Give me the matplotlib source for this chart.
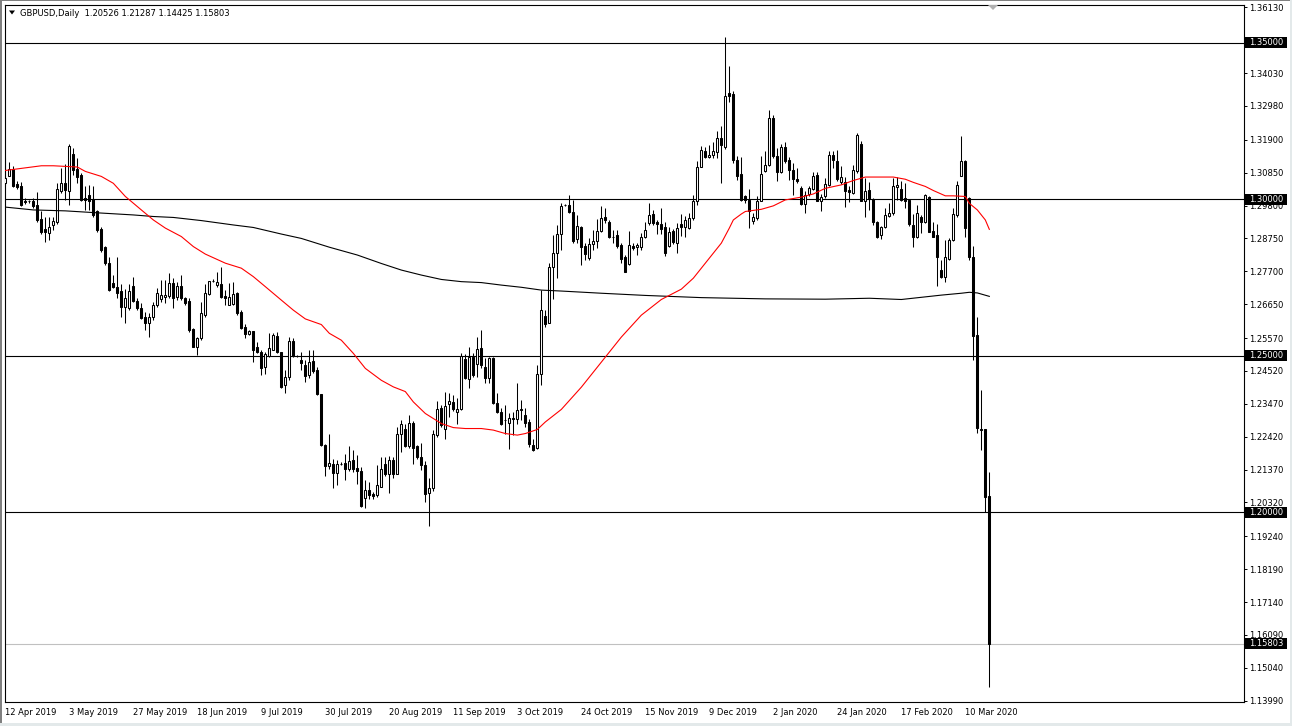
import matplotlib
matplotlib.use("Agg")
import matplotlib.pyplot as plt
from matplotlib.transforms import blended_transform_factory
from matplotlib.patches import Rectangle, Polygon
import numpy as np

plt.rcParams['font.family'] = ['DejaVu Sans']

header_text = "GBPUSD,Daily  1.20526 1.21287 1.14425 1.15803"

opens = [
    1.3051, 1.3075, 1.3096, 1.3049, 1.3041, 1.2994, 1.2993, 1.2995, 1.2982, 1.2936,
    1.2904, 1.2892, 1.2918, 1.2929, 1.3028, 1.3051, 1.3028, 1.3145, 1.3096, 1.3078,
    1.3003, 1.3013, 1.3000, 1.2961, 1.2906, 1.2847, 1.2796, 1.2732, 1.2721, 1.2708,
    1.2657, 1.2652, 1.2723, 1.2676, 1.2652, 1.2625, 1.2606, 1.2625, 1.2662, 1.2680,
    1.2689, 1.2691, 1.2732, 1.2689, 1.2723, 1.2684, 1.2676, 1.2585, 1.2529, 1.2556,
    1.2630, 1.2698, 1.2740, 1.2726, 1.2730, 1.2691, 1.2662, 1.2666, 1.2700, 1.2641,
    1.2593, 1.2569, 1.2579, 1.2529, 1.2513, 1.2465, 1.2499, 1.2520, 1.2563, 1.2511,
    1.2406, 1.2431, 1.2547, 1.2500, 1.2488, 1.2470, 1.2438, 1.2483, 1.2456, 1.2378,
    1.2216, 1.2148, 1.2156, 1.2126, 1.2156, 1.2159, 1.2138, 1.2169, 1.2142, 1.2131,
    1.2047, 1.2073, 1.2058, 1.2057, 1.2081, 1.2156, 1.2124, 1.2169, 1.2124, 1.2252,
    1.2266, 1.2211, 1.2287, 1.2211, 1.2177, 1.2150, 1.2062, 1.2078, 1.2247, 1.2332,
    1.2268, 1.2345, 1.2353, 1.2321, 1.2330, 1.2490, 1.2426, 1.2497, 1.2473, 1.2524,
    1.2465, 1.2428, 1.2492, 1.2348, 1.2321, 1.2295, 1.2286, 1.2303, 1.2297, 1.2329,
    1.2311, 1.2289, 1.2217, 1.2206, 1.2441, 1.2627, 1.2606, 1.2783, 1.2828, 1.2890,
    1.2982, 1.2982, 1.2958, 1.2872, 1.2911, 1.2851, 1.2811, 1.2856, 1.2867, 1.2899,
    1.2943, 1.2927, 1.2881, 1.2885, 1.2854, 1.2815, 1.2794, 1.2851, 1.2849, 1.2847,
    1.2879, 1.2924, 1.2953, 1.2926, 1.2920, 1.2911, 1.2851, 1.2899, 1.2860, 1.2922,
    1.2911, 1.2908, 1.2940, 1.2993, 1.3103, 1.3153, 1.3134, 1.3142, 1.3150, 1.3195,
    1.3167, 1.3339, 1.3335, 1.3126, 1.3081, 1.3009, 1.2998, 1.2932, 1.2940, 1.2995,
    1.3089, 1.3110, 1.3259, 1.3139, 1.3086, 1.3167, 1.3126, 1.3094, 1.3064, 1.3036,
    1.2985, 1.3016, 1.3032, 1.3078, 1.2993, 1.3009, 1.3046, 1.3142, 1.3121, 1.3054,
    1.3054, 1.3030, 1.3020, 1.3089, 1.3177, 1.2996, 1.3030, 1.3000, 1.2926, 1.2886,
    1.2911, 1.2947, 1.2956, 1.3039, 1.3032, 1.3004, 1.2998, 1.2918, 1.2881, 1.2945,
    1.2929, 1.3007, 1.2899, 1.2886, 1.2774, 1.2751, 1.2808, 1.2870, 1.2950, 1.3075,
    1.3121, 1.3004, 1.2817, 1.2566, 1.2268, 1.2266, 1.20526,
]

highs = [
    1.3131, 1.3119, 1.3105, 1.3057, 1.3054, 1.3003, 1.2998, 1.3003, 1.3022, 1.2961,
    1.2943, 1.2943, 1.2943, 1.3051, 1.3099, 1.3112, 1.3177, 1.3163, 1.3131, 1.3083,
    1.3041, 1.3046, 1.3041, 1.2966, 1.2913, 1.2851, 1.2817, 1.2758, 1.2817, 1.2730,
    1.2712, 1.2730, 1.2753, 1.2684, 1.2668, 1.2641, 1.2638, 1.2673, 1.2716, 1.2742,
    1.2742, 1.2764, 1.2748, 1.2737, 1.2758, 1.2689, 1.2684, 1.2588, 1.2561, 1.2673,
    1.2730, 1.2740, 1.2745, 1.2769, 1.2785, 1.2710, 1.2732, 1.2737, 1.2705, 1.2646,
    1.2602, 1.2584, 1.2581, 1.2545, 1.2520, 1.2513, 1.2572, 1.2572, 1.2577, 1.2513,
    1.2456, 1.2559, 1.2556, 1.2503, 1.2513, 1.2488, 1.2520, 1.2520, 1.2465, 1.2378,
    1.2220, 1.2250, 1.2172, 1.2169, 1.2160, 1.2188, 1.2211, 1.2198, 1.2182, 1.2145,
    1.2105, 1.2097, 1.2065, 1.2150, 1.2177, 1.2177, 1.2179, 1.2177, 1.2273, 1.2294,
    1.2284, 1.2310, 1.2291, 1.2214, 1.2222, 1.2165, 1.2110, 1.2262, 1.2356, 1.2343,
    1.2385, 1.2380, 1.2375, 1.2367, 1.2508, 1.2506, 1.2527, 1.2508, 1.2559, 1.2582,
    1.2492, 1.2497, 1.2495, 1.2380, 1.2332, 1.2343, 1.2316, 1.2321, 1.2412, 1.2359,
    1.2332, 1.2300, 1.2236, 1.2470, 1.2710, 1.2648, 1.2796, 1.2886, 1.2918, 1.2988,
    1.2986, 1.3014, 1.2998, 1.2950, 1.2915, 1.2860, 1.2876, 1.2902, 1.2936, 1.2977,
    1.2972, 1.2934, 1.2902, 1.2902, 1.2860, 1.2822, 1.2899, 1.2860, 1.2860, 1.2892,
    1.2929, 1.2988, 1.2966, 1.2934, 1.2972, 1.2929, 1.2913, 1.2904, 1.2924, 1.2953,
    1.2947, 1.2956, 1.3014, 1.3121, 1.3169, 1.3167, 1.3174, 1.3182, 1.3217, 1.3233,
    1.3518, 1.3425, 1.3345, 1.3137, 1.3135, 1.3014, 1.3032, 1.2956, 1.3009, 1.3137,
    1.3153, 1.3286, 1.3270, 1.3163, 1.3177, 1.3182, 1.3135, 1.3115, 1.3099, 1.3043,
    1.3025, 1.3043, 1.3086, 1.3086, 1.3017, 1.3067, 1.3153, 1.3153, 1.3158, 1.3105,
    1.3071, 1.3041, 1.3110, 1.3212, 1.3185, 1.3067, 1.3054, 1.3004, 1.2932, 1.2915,
    1.2972, 1.2988, 1.3067, 1.3071, 1.3057, 1.3051, 1.3000, 1.2953, 1.2982, 1.2950,
    1.3017, 1.3009, 1.2926, 1.2921, 1.2806, 1.2870, 1.2876, 1.2972, 1.3057, 1.3203,
    1.3124, 1.3007, 1.2851, 1.2625, 1.2390, 1.2268, 1.21287,
]

lows = [
    1.3046, 1.3073, 1.3039, 1.3032, 1.2977, 1.2985, 1.2988, 1.2971, 1.2929, 1.2889,
    1.2865, 1.2870, 1.2902, 1.2921, 1.3019, 1.2998, 1.2982, 1.3078, 1.3051, 1.2993,
    1.2966, 1.2966, 1.2943, 1.2897, 1.2833, 1.2790, 1.2708, 1.2716, 1.2684, 1.2623,
    1.2604, 1.2646, 1.2673, 1.2646, 1.2617, 1.2582, 1.2561, 1.2614, 1.2657, 1.2673,
    1.2668, 1.2684, 1.2652, 1.2678, 1.2678, 1.2662, 1.2577, 1.2527, 1.2502, 1.2550,
    1.2625, 1.2694, 1.2735, 1.2721, 1.2684, 1.2662, 1.2662, 1.2662, 1.2630, 1.2585,
    1.2556, 1.2566, 1.2481, 1.2508, 1.2438, 1.2441, 1.2497, 1.2518, 1.2510, 1.2396,
    1.2382, 1.2424, 1.2495, 1.2497, 1.2454, 1.2417, 1.2428, 1.2444, 1.2374, 1.2211,
    1.2115, 1.2140, 1.2078, 1.2089, 1.2150, 1.2103, 1.2132, 1.2129, 1.2092, 1.2019,
    1.2015, 1.2044, 1.2044, 1.2049, 1.2081, 1.2115, 1.2062, 1.2111, 1.2122, 1.2193,
    1.2209, 1.2207, 1.2154, 1.2172, 1.2135, 1.2035, 1.1958, 1.2070, 1.2241, 1.2273,
    1.2236, 1.2305, 1.2324, 1.2284, 1.2327, 1.2425, 1.2396, 1.2433, 1.2433, 1.2460,
    1.2412, 1.2412, 1.2346, 1.2316, 1.2279, 1.2252, 1.2204, 1.2247, 1.2284, 1.2295,
    1.2273, 1.2209, 1.2196, 1.2204, 1.2406, 1.2593, 1.2604, 1.2680, 1.2748, 1.2838,
    1.2978, 1.2956, 1.2860, 1.2860, 1.2790, 1.2806, 1.2806, 1.2838, 1.2844, 1.2897,
    1.2924, 1.2876, 1.2860, 1.2844, 1.2796, 1.2769, 1.2790, 1.2838, 1.2822, 1.2838,
    1.2876, 1.2918, 1.2918, 1.2890, 1.2890, 1.2819, 1.2849, 1.2858, 1.2830, 1.2883,
    1.2881, 1.2904, 1.2934, 1.2982, 1.3103, 1.3132, 1.3132, 1.3132, 1.3132, 1.3052,
    1.3160, 1.3310, 1.3115, 1.3062, 1.2993, 1.2988, 1.2908, 1.2921, 1.2934, 1.2993,
    1.3086, 1.3107, 1.3131, 1.3057, 1.3083, 1.3115, 1.3062, 1.3014, 1.3051, 1.2982,
    1.2956, 1.3009, 1.3030, 1.2993, 1.2961, 1.3004, 1.3041, 1.3099, 1.3057, 1.3049,
    1.2975, 1.2990, 1.3016, 1.3083, 1.2993, 1.2945, 1.2966, 1.2918, 1.2877, 1.2872,
    1.2908, 1.2945, 1.2950, 1.2998, 1.2993, 1.2972, 1.2915, 1.2849, 1.2876, 1.2892,
    1.2924, 1.2894, 1.2879, 1.2723, 1.2748, 1.2737, 1.2806, 1.2868, 1.2945, 1.3073,
    1.2879, 1.2806, 1.2486, 1.2254, 1.2200, 1.2001, 1.14425,
]

closes = [
    1.3067, 1.3096, 1.3043, 1.3039, 1.2982, 1.2992, 1.2993, 1.2977, 1.2934, 1.2897,
    1.2897, 1.2911, 1.2931, 1.3032, 1.3051, 1.3030, 1.3171, 1.3092, 1.3071, 1.2998,
    1.2998, 1.2993, 1.2950, 1.2902, 1.2838, 1.2796, 1.2710, 1.2719, 1.2700, 1.2657,
    1.2684, 1.2708, 1.2676, 1.2652, 1.2620, 1.2606, 1.2625, 1.2662, 1.2700, 1.2694,
    1.2694, 1.2732, 1.2684, 1.2723, 1.2684, 1.2670, 1.2582, 1.2529, 1.2556, 1.2638,
    1.2702, 1.2740, 1.2740, 1.2737, 1.2687, 1.2684, 1.2689, 1.2698, 1.2636, 1.2588,
    1.2570, 1.2579, 1.2520, 1.2513, 1.2460, 1.2505, 1.2524, 1.2568, 1.2513, 1.2401,
    1.2431, 1.2547, 1.2499, 1.2499, 1.2476, 1.2435, 1.2481, 1.2452, 1.2378, 1.2214,
    1.2148, 1.2159, 1.2126, 1.2156, 1.2155, 1.2140, 1.2164, 1.2138, 1.2132, 1.2020,
    1.2073, 1.2055, 1.2054, 1.2089, 1.2140, 1.2122, 1.2169, 1.2122, 1.2252, 1.2284,
    1.2212, 1.2287, 1.2206, 1.2177, 1.2150, 1.2060, 1.2078, 1.2252, 1.2329, 1.2279,
    1.2340, 1.2355, 1.2329, 1.2329, 1.2500, 1.2428, 1.2497, 1.2439, 1.2521, 1.2470,
    1.2430, 1.2492, 1.2348, 1.2321, 1.2284, 1.2294, 1.2303, 1.2297, 1.2327, 1.2328,
    1.2286, 1.2220, 1.2201, 1.2441, 1.2646, 1.2602, 1.2783, 1.2828, 1.2889, 1.2979,
    1.2982, 1.2958, 1.2868, 1.2915, 1.2849, 1.2826, 1.2856, 1.2867, 1.2899, 1.2940,
    1.2934, 1.2881, 1.2880, 1.2851, 1.2809, 1.2769, 1.2854, 1.2844, 1.2854, 1.2879,
    1.2902, 1.2950, 1.2924, 1.2920, 1.2904, 1.2830, 1.2897, 1.2862, 1.2908, 1.2911,
    1.2934, 1.2940, 1.2993, 1.3103, 1.3156, 1.3134, 1.3142, 1.3155, 1.3195, 1.3174,
    1.3329, 1.3329, 1.3126, 1.3075, 1.2998, 1.2998, 1.2961, 1.2945, 1.2995, 1.3081,
    1.3110, 1.3259, 1.3137, 1.3086, 1.3167, 1.3121, 1.3092, 1.3064, 1.3057, 1.2985,
    1.3014, 1.3036, 1.3075, 1.2996, 1.3007, 1.3049, 1.3142, 1.3124, 1.3064, 1.3071,
    1.3025, 1.3022, 1.3092, 1.3206, 1.2996, 1.3028, 1.3000, 1.2926, 1.2879, 1.2911,
    1.2950, 1.2956, 1.3043, 1.3046, 1.2998, 1.2996, 1.2921, 1.2881, 1.2956, 1.2929,
    1.3014, 1.2897, 1.2881, 1.2815, 1.2751, 1.2815, 1.2870, 1.2952, 1.3046, 1.3121,
    1.2907, 1.2815, 1.2563, 1.2271, 1.2264, 1.2049, 1.15803,
]

# moving averages (bar index, value)
ma_red_bars = [0, 9, 12, 18, 20, 24, 27, 30, 34, 37, 40, 44, 47, 50, 55, 59, 62, 65, 69, 72,
               75, 79, 81, 84, 87, 90, 94, 97, 100, 102, 105, 109, 112, 115, 119, 122, 125,
               128, 130, 133, 135, 139, 144, 149, 154, 159, 164, 169, 172, 175, 179, 181,
               182, 184, 185, 189, 192, 195, 199, 202, 205, 209, 212, 215, 222, 225, 227,
               230, 232, 235, 237, 240, 241, 243, 245, 246]
ma_red_vals = [1.3092, 1.3107, 1.3107, 1.3103, 1.3089, 1.3073, 1.3051, 1.3009, 1.2966, 1.2934,
               1.2908, 1.2881, 1.2849, 1.2825, 1.2796, 1.2780, 1.2753, 1.2721, 1.2678, 1.2646,
               1.2618, 1.2600, 1.2572, 1.2550, 1.2508, 1.2460, 1.2422, 1.2401, 1.2386, 1.2353,
               1.2316, 1.2284, 1.2271, 1.2268, 1.2268, 1.2263, 1.2252, 1.2247, 1.2252, 1.2265,
               1.2289, 1.2329, 1.2400, 1.2480, 1.2560, 1.2630, 1.2680, 1.2713, 1.2748, 1.2796,
               1.2860, 1.2908, 1.2934, 1.2953, 1.2961, 1.2968, 1.2979, 1.2998, 1.3007, 1.3017,
               1.3035, 1.3046, 1.3060, 1.3071, 1.3071, 1.3064, 1.3054, 1.3041, 1.3028, 1.3011,
               1.3011, 1.3009, 1.2987, 1.2966, 1.2934, 1.2904]

ma_black_bars = [0, 7, 15, 24, 32, 37, 42, 49, 57, 62, 69, 74, 81, 88, 94, 99, 104, 109, 114,
                 119, 124, 129, 134, 139, 149, 160, 174, 190, 205, 216, 224, 229, 234, 239,
                 241, 243, 246]
ma_black_vals = [1.2975, 1.2966, 1.2963, 1.2956, 1.2950, 1.2945, 1.2942, 1.2932, 1.2918,
                 1.2910, 1.2889, 1.2875, 1.2847, 1.2822, 1.2795, 1.2774, 1.2758, 1.2744,
                 1.2737, 1.2734, 1.2726, 1.2719, 1.2710, 1.2707, 1.2700, 1.2693, 1.2686,
                 1.2682, 1.2681, 1.2684, 1.2680, 1.2687, 1.2694, 1.2700, 1.2703, 1.2701, 1.2690]

date_labels = ["12 Apr 2019", "3 May 2019", "27 May 2019", "18 Jun 2019", "9 Jul 2019",
               "30 Jul 2019", "20 Aug 2019", "11 Sep 2019", "3 Oct 2019", "24 Oct 2019",
               "15 Nov 2019", "9 Dec 2019", "2 Jan 2020", "24 Jan 2020", "17 Feb 2020",
               "10 Mar 2020"]
date_label_bars = [0, 16, 32, 48, 64, 80, 96, 112, 128, 144, 160, 176, 192, 208, 224, 240]

price_ticks = [1.36130, 1.34030, 1.32980, 1.31900, 1.30850, 1.29800, 1.28750, 1.27700,
               1.26650, 1.25570, 1.24520, 1.23470, 1.22420, 1.21370, 1.20320, 1.19240,
               1.18190, 1.17140, 1.16090, 1.15040, 1.13990]
price_tick_labels = ["1.36130", "1.34030", "1.32980", "1.31900", "1.30850", "1.29800",
                     "1.28750", "1.27700", "1.26650", "1.25570", "1.24520", "1.23470",
                     "1.22420", "1.21370", "1.20320", "1.19240", "1.18190", "1.17140",
                     "1.16090", "1.15040", "1.13990"]

level_values = [1.35, 1.30, 1.25, 1.20]
level_labels = ["1.35000", "1.30000", "1.25000", "1.20000"]
bid_value = 1.15803
bid_label = "1.15803"

# ---------------------------------------------------------------- figure
W, H = 1292, 726
fig = plt.figure(figsize=(W / 100, H / 100), dpi=100)
fig.patch.set_facecolor("white")

ax_l, ax_r, ax_t, ax_b = 4.7, 1244.0, 4.7, 702.0
ax = fig.add_axes([ax_l / W, (H - ax_b) / H, (ax_r - ax_l) / W, (ax_b - ax_t) / H])
ax.set_facecolor("white")
ax.set_xlim(-0.16, 309.67)
ax.set_ylim(1.13948, 1.36213)

o = np.array(opens)
h = np.array(highs)
l = np.array(lows)
c = np.array(closes)
x = np.arange(len(o))

top = np.maximum(np.maximum(o, c), h)
bot = np.minimum(np.minimum(o, c), l)
ax.vlines(x, bot, top, color="black", linewidth=0.75, zorder=3)

body_lo = np.minimum(o, c)
body_h = np.maximum(np.abs(c - o), 0.00003)
up = c >= o
ax.bar(x[up], body_h[up], bottom=body_lo[up], width=0.5, facecolor="white",
       edgecolor="black", linewidth=0.75, zorder=4)
ax.bar(x[~up], body_h[~up], bottom=body_lo[~up], width=0.5, facecolor="black",
       edgecolor="black", linewidth=0.75, zorder=4)

for v in level_values:
    ax.axhline(v, color="black", linewidth=0.8, zorder=2)
ax.axhline(bid_value, color="#c0c0c0", linewidth=0.8, zorder=2)

ax.plot(ma_black_bars, ma_black_vals, color="black", linewidth=0.8, zorder=5)
ax.plot(ma_red_bars, ma_red_vals, color="#ff0000", linewidth=0.8, zorder=5)

for sp in ax.spines.values():
    sp.set_color("black")
    sp.set_linewidth(0.8)

# y axis on the right
ax.yaxis.tick_right()
ax.set_yticks(price_ticks)
ax.set_yticklabels(price_tick_labels)
ax.tick_params(axis="y", length=2.2, width=0.7, pad=1.6, labelsize=6, colors="black")

# x axis labels
ax.set_xticks(date_label_bars)
ax.set_xticklabels(date_labels)
ax.tick_params(axis="x", length=0, pad=4.5, labelsize=6, colors="black")
for lab in ax.get_xticklabels():
    lab.set_horizontalalignment("left")

# level label boxes
trans = blended_transform_factory(ax.transAxes, ax.transData)
axw = ax_r - ax_l
unit_px = (ax_b - ax_t) / (1.36213 - 1.13948)
box_h = 11.0 / unit_px
for v, txt in list(zip(level_values, level_labels)) + [(bid_value, bid_label)]:
    ax.add_patch(Rectangle((1 + 1.5 / axw, v - box_h / 2), 42.0 / axw, box_h,
                           transform=trans, facecolor="black", edgecolor="none",
                           clip_on=False, zorder=10))
    ax.text(1 + 5.5 / axw, v, txt, transform=trans, color="white", fontsize=6,
            ha="left", va="center", zorder=11, clip_on=False)

# header
fig.text(20.5 / W, 1 - 13.0 / H, header_text, fontsize=6, color="black",
         ha="left", va="center")
fig.patches.append(Polygon([[9.0 / W, 1 - 10.5 / H], [15.0 / W, 1 - 10.5 / H],
                            [12.0 / W, 1 - 14.5 / H]], closed=True, facecolor="black",
                           edgecolor="none", transform=fig.transFigure, figure=fig))
# chart-shift marker
fig.patches.append(Polygon([[988.0 / W, 1 - 5.0 / H], [998.0 / W, 1 - 5.0 / H],
                            [993.0 / W, 1 - 10.0 / H]], closed=True, facecolor="#b0b0b0",
                           edgecolor="none", transform=fig.transFigure, figure=fig, zorder=20))

# window frame
fig.patches.append(Rectangle((0, 0), 2.0 / W, 1, transform=fig.transFigure, figure=fig,
                             facecolor="#808080", edgecolor="none"))
fig.patches.append(Rectangle((0, 1 - 1.0 / H), 1, 1.0 / H, transform=fig.transFigure,
                             figure=fig, facecolor="#808080", edgecolor="none"))
fig.patches.append(Rectangle((0, 0), 1, 3.0 / H, transform=fig.transFigure, figure=fig,
                             facecolor="#e3e9ea", edgecolor="none"))
fig.patches.append(Rectangle((1 - 2.0 / W, 0), 2.0 / W, 1, transform=fig.transFigure,
                             figure=fig, facecolor="#e3e9ea", edgecolor="none"))

fig.savefig("out.png", dpi=100, facecolor="white")
